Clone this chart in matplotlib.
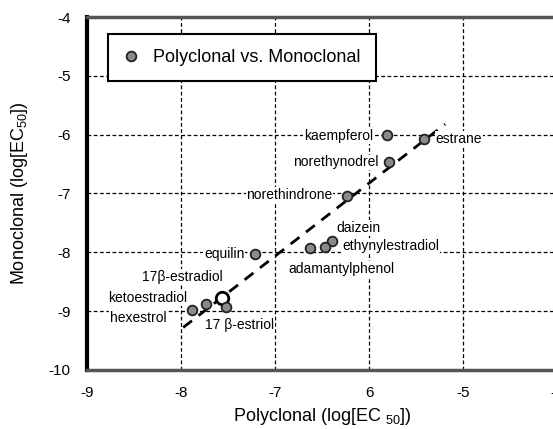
import matplotlib

matplotlib.use("Agg")
import matplotlib.pyplot as plt
from matplotlib.lines import Line2D

plt.rcParams["font.family"] = ["Liberation Sans", "DejaVu Sans"]
plt.rcParams["mathtext.default"] = "regular"
plt.rcParams["axes.unicode_minus"] = False

# compounds: polyclonal vs monoclonal log[EC50]
names = ["kaempferol", "estrane", "norethynodrel", "norethindrone", "daizein",
         "ethynylestradiol", "adamantylphenol", "equilin", "17\u03b2-estradiol",
         "ketoestradiol", "17 \u03b2-estriol", "hexestrol"]
poly = [-5.81, -5.41, -5.79, -6.24, -6.40, -6.47, -6.63, -7.22, -7.57, -7.74, -7.52, -7.89]
mono = [-6.01, -6.07, -6.47, -7.04, -7.81, -7.91, -7.93, -8.03, -8.78, -8.88, -8.93, -8.98]
open_marker = "17\u03b2-estradiol"

# fitted trend line endpoints
fit_x = [-7.98, -5.19]
fit_y = [-9.28, -5.82]

xticks = [-9, -8, -7, -6, -5, -4]
xticklabels = ["-9", "-8", "-7", "6", "-5", "-4"]
yticks = [-10, -9, -8, -7, -6, -5, -4]

# label placement: (dx, dy) in pixels, horizontal alignment
label_pos = {
    "kaempferol": (-14, -1, "right"),
    "estrane": (11, 0, "left"),
    "norethynodrel": (-10, 0, "right"),
    "norethindrone": (-14, 1, "right"),
    "daizein": (5, 13, "left"),
    "ethynylestradiol": (17, 1, "left"),
    "adamantylphenol": (-22, -21, "left"),
    "equilin": (-10, 0, "right"),
    "17\u03b2-estradiol": (-39, 21, "center"),
    "ketoestradiol": (-18, 6, "right"),
    "17 \u03b2-estriol": (-21, -18, "left"),
    "hexestrol": (-25, -8, "right"),
}

fig = plt.figure(figsize=(5.53, 4.29), dpi=100)
ax = fig.add_axes([0.158, 0.138, 0.849, 0.822])
ax.set_xlim(-9, -4)
ax.set_ylim(-10, -4)

ax.grid(True, color="black", linestyle=(0, (3, 2)), linewidth=0.9)
ax.set_axisbelow(True)

ax.plot(fit_x, fit_y, color="black", linestyle=(0, (4, 3)), linewidth=2, zorder=3)

for n, x, y in zip(names, poly, mono):
    if n == open_marker:
        ax.plot(x, y, "o", ms=9, mfc="white", mec="black", mew=2, zorder=4)
    else:
        ax.plot(x, y, "o", ms=7, mfc="#8a8a8a", mec="#222222", mew=1.3, zorder=4)
    dx, dy, ha = label_pos[n]
    ax.annotate(n, (x, y), xytext=(dx, dy), textcoords="offset pixels",
                ha=ha, va="center", fontsize=10, zorder=5,
                bbox=dict(facecolor="white", edgecolor="none", pad=0.5))

ax.set_xticks(xticks)
ax.set_xticklabels(xticklabels)
ax.set_yticks(yticks)
ax.tick_params(length=0, labelsize=11, pad=12)

ax.spines["left"].set_linewidth(3)
ax.spines["left"].set_color("black")
for s in ("top", "bottom"):
    ax.spines[s].set_linewidth(2.5)
    ax.spines[s].set_color("#555555")
ax.spines["right"].set_visible(False)

ax.set_xlabel("Polyclonal (log[EC $_{50}$])", fontsize=13, labelpad=4)
ax.set_ylabel("Monoclonal (log[EC$_{50}$])", fontsize=13, labelpad=20)
ax.yaxis.set_label_coords(-0.123, 0.5)

handle = Line2D([], [], marker="o", linestyle="none", ms=7, mfc="#8a8a8a",
                mec="#222222", mew=1.3)
leg = ax.legend([handle], ["Polyclonal vs. Monoclonal"], loc="upper left",
                bbox_to_anchor=(0.043, 0.953), fontsize=13, fancybox=False,
                framealpha=1, borderpad=0.85, handlelength=0.9,
                handletextpad=0.75, borderaxespad=0)
leg.get_frame().set_edgecolor("black")
leg.get_frame().set_linewidth(1.5)

fig.savefig("out.png", dpi=100)
